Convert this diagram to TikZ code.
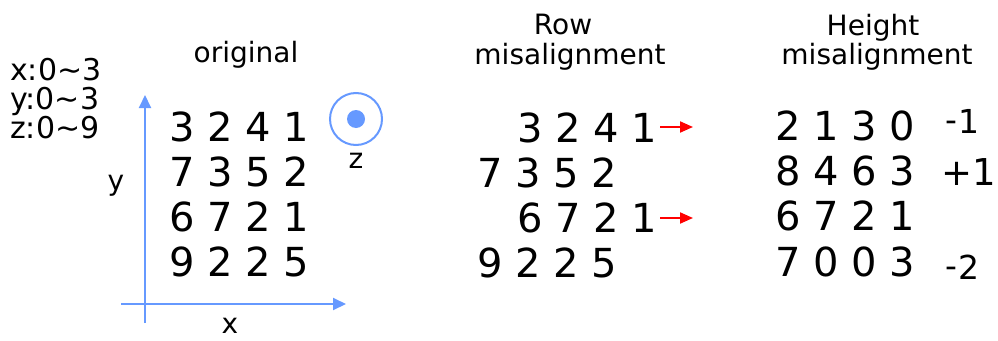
\documentclass[tikz,border=0pt]{standalone}
\usepackage{fontspec}
\setmainfont{DejaVu Sans}
\usetikzlibrary{arrows.meta}
\definecolor{axisblue}{RGB}{102,153,255}
\begin{document}
\begin{tikzpicture}[x=1pt,y=-1pt,
  big/.style={inner sep=0pt, anchor=base west, font=\fontsize{40}{48}\selectfont},
  lbl/.style={inner sep=0pt, font=\fontsize{28}{34}\selectfont},
  rng/.style={inner sep=0pt, anchor=base west, font=\fontsize{30}{36}\selectfont},
  offs/.style={inner sep=0pt, anchor=base west, font=\fontsize{33}{40}\selectfont},
  offsbig/.style={inner sep=0pt, anchor=base west, font=\fontsize{37}{44}\selectfont},
  axisline/.style={draw=axisblue, line width=2pt, -{Triangle[length=13pt,width=12pt]}},
  redarrow/.style={draw=red, line width=2pt, -{Triangle[length=13pt,width=11pt]}}]
\useasboundingbox (0,0) rectangle (998,340);

% ranges
\node[rng] (rx) at (10,80) {x:0\textasciitilde 3};
\node[rng] (ry) at (10,109) {y:0\textasciitilde 3};
\node[rng] (rz) at (10,138) {z:0\textasciitilde 9};

% titles
\node[lbl, anchor=base] (t1) at (246,62) {original};
\node[lbl, anchor=base] (t2a) at (563,34) {Row};
\node[lbl, anchor=base] (t2b) at (570,64) {misalignment};
\node[lbl, anchor=base] (t3a) at (873,35) {Height};
\node[lbl, anchor=base] (t3b) at (877,64) {misalignment};

% axes
\coordinate (yb) at (145,323);
\coordinate (yt) at (145,95);
\coordinate (xl) at (121,304);
\coordinate (xr) at (346,304);
\draw[axisline] (yb) -- (yt);
\draw[axisline] (xl) -- (xr);
\node[lbl] (ly) at (116,186) {y};
\node[lbl] (lx) at (230,326) {x};

% z symbol
\node[circle, draw=axisblue, line width=2pt, minimum size=52pt, inner sep=0pt] (zc) at (356,119) {};
\fill[axisblue] (zc.center) circle (9);
\node[lbl] (lz) at (356,161) {z};

% original grid
\node[big] (o1) at (169,141) {3 2 4 1};
\node[big] (o2) at (169,186) {7 3 5 2};
\node[big] (o3) at (169,231) {6 7 2 1};
\node[big] (o4) at (169,276) {9 2 2 5};

% row misalignment grid
\node[big] (r1) at (517,142) {3 2 4 1};
\node[big] (r2) at (477,187) {7 3 5 2};
\node[big] (r3) at (517,232) {6 7 2 1};
\node[big] (r4) at (477,277) {9 2 2 5};
\coordinate (a1s) at (660,127);
\coordinate (a1e) at (693,127);
\coordinate (a2s) at (660,218);
\coordinate (a2e) at (693,218);
\draw[redarrow] (a1s) -- (a1e);
\draw[redarrow] (a2s) -- (a2e);

% height misalignment grid
\node[big] (h1) at (775,140) {2 1 3 0};
\node[big] (h2) at (775,185) {8 4 6 3};
\node[big] (h3) at (775,230) {6 7 2 1};
\node[big] (h4) at (775,276) {7 0 0 3};
\node[offs] (d1) at (945,133) {\raisebox{1.5pt}{-}\kern1pt 1};
\node[offsbig] (d2) at (941,185) {+1};
\node[offs] (d4) at (945,279) {\raisebox{1.5pt}{-}\kern1pt 2};
\end{tikzpicture}
\end{document}
